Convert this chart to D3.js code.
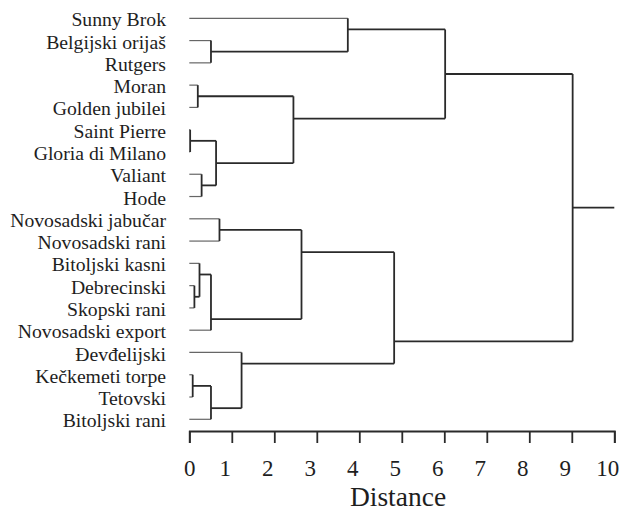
<!DOCTYPE html>
<html>
<head>
<meta charset="utf-8">
<script src="https://cdn.jsdelivr.net/npm/d3@7"></script>
<style>
  html, body { margin: 0; padding: 0; background: #fff; }
  svg { display: block; }
</style>
</head>
<body>
<svg id="chart" width="622" height="513"></svg>
<script>
// ---- Data ----
const leafNames = [
  "Sunny Brok", "Belgijski orijaš", "Rutgers", "Moran", "Golden jubilei",
  "Saint Pierre", "Gloria di Milano", "Valiant", "Hode",
  "Novosadski jabučar", "Novosadski rani", "Bitoljski kasni", "Debrecinski",
  "Skopski rani", "Novosadski export", "Đevđelijski", "Kečkemeti torpe",
  "Tetovski", "Bitoljski rani"
];
// merge i joins mergeA[i] and mergeB[i] (leaf name or "m<k>") at mergeHeights[i]
const mergeA = ["Saint Pierre","Kečkemeti torpe","Debrecinski","Moran","Bitoljski kasni","Valiant",
  "Belgijski orijaš","m4","m1","m0","Novosadski jabučar","Đevđelijski","m3","m10","Sunny Brok","m13","m14","m16"];
const mergeB = ["Gloria di Milano","Tetovski","Skopski rani","Golden jubilei","m2","Hode",
  "Rutgers","Novosadski export","Bitoljski rani","m5","Novosadski rani","m8","m9","m7","m6","m11","m12","m15"];
const mergeHeights = [0.02,0.08,0.12,0.20,0.24,0.29,0.51,0.51,0.51,0.63,0.71,1.23,2.45,2.64,3.73,4.82,6.02,9.02];
const xTicks = [0,1,2,3,4,5,6,7,8,9,10];
const xTitle = "Distance";

// ---- Build tree ----
const nodes = {};
leafNames.forEach(n => nodes[n] = { name: n, h: 0 });
mergeA.forEach((a, i) => {
  nodes["m" + i] = { name: "m" + i, h: mergeHeights[i], children: [nodes[a], nodes[mergeB[i]]] };
});
const rootData = nodes["m" + (mergeA.length - 1)];
const root = d3.hierarchy(rootData);

// ---- Scales ----
const FONT = "'Liberation Serif', 'Times New Roman', serif";
const x = d3.scaleLinear().domain([0, 10]).range([189.3, 614.3]);
const y = d3.scalePoint().domain(leafNames).range([18.3, 419.3]);

// ---- Layout: leaf y; internal node output y at boundary between child clusters ----
root.eachAfter(n => {
  if (!n.children) {
    n.outY = y(n.data.name);
    n.firstY = n.lastY = n.outY;
  } else {
    const [c0, c1] = n.children;
    n.firstY = c0.firstY;
    n.lastY = c1.lastY;
    n.outY = (c0.lastY + c1.firstY) / 2;
  }
});

const svg = d3.select("#chart");
svg.append("rect").attr("width", 622).attr("height", 513).attr("fill", "#fff");

const g = svg.append("g");

// horizontal segments
root.descendants().forEach(n => {
  const x0 = x(n.data.h);
  const x1 = n.parent ? x(n.parent.data.h) : x(x.domain()[1]);
  const leaf = !n.children;
  g.append("line")
    .attr("x1", x0).attr("x2", x1)
    .attr("y1", n.outY).attr("y2", n.outY)
    .attr("stroke", leaf ? "#666" : "#2a2a2a")
    .attr("stroke-width", leaf ? 1.2 : 1.8);
});
// vertical segments
root.descendants().filter(n => n.children).forEach(n => {
  g.append("line")
    .attr("x1", x(n.data.h)).attr("x2", x(n.data.h))
    .attr("y1", n.children[0].outY).attr("y2", n.children[1].outY)
    .attr("stroke", "#2a2a2a")
    .attr("stroke-width", 1.8);
});

// leaf labels
svg.append("g").selectAll("text")
  .data(leafNames)
  .join("text")
  .attr("x", 166)
  .attr("y", d => y(d))
  .attr("dy", "0.41em")
  .attr("text-anchor", "end")
  .attr("font-family", FONT)
  .attr("font-size", 19.7)
  .attr("fill", "#1e1e1e")
  .text(d => d);

// axis
const axis = svg.append("g")
  .attr("transform", "translate(0,431)")
  .call(d3.axisBottom(x).tickValues(xTicks).tickFormat(d3.format("d"))
    .tickSize(12).tickPadding(17));
axis.select(".domain").attr("stroke", "#2a2a2a").attr("stroke-width", 1.8);
axis.selectAll(".tick line").attr("stroke", "#2a2a2a").attr("stroke-width", 1.8);
axis.selectAll(".tick text")
  .attr("font-family", FONT)
  .attr("font-size", 23)
  .attr("fill", "#1e1e1e")
  .attr("dx", d => d === 0 ? 0 : -7);

svg.append("text")
  .attr("x", 398)
  .attr("y", 506)
  .attr("text-anchor", "middle")
  .attr("font-family", FONT)
  .attr("font-size", 27.5)
  .attr("fill", "#1e1e1e")
  .text(xTitle);
</script>
</body>
</html>
